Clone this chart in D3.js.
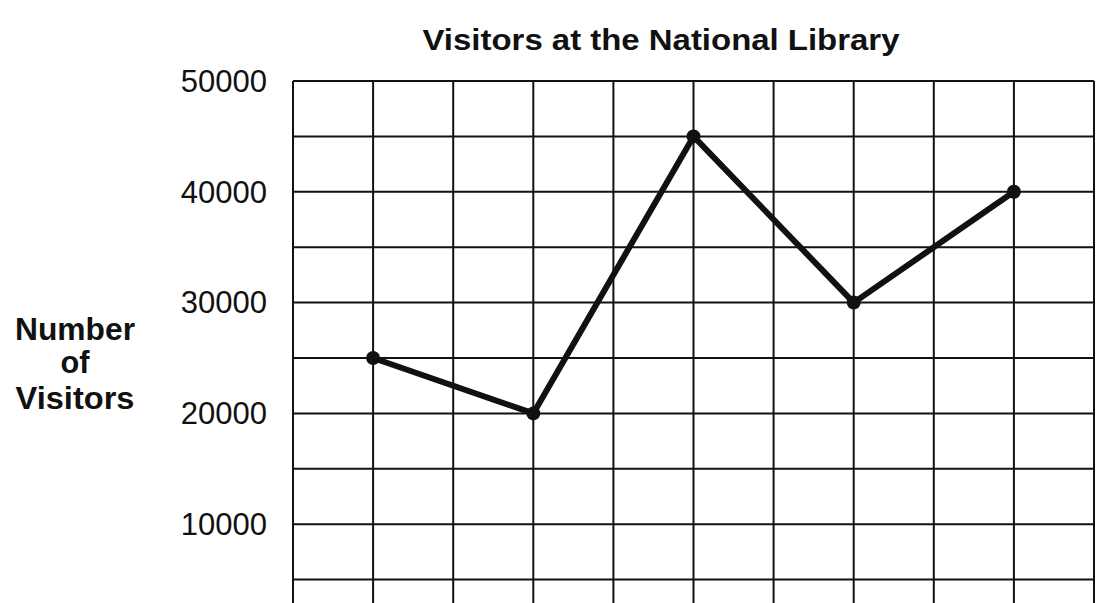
<!DOCTYPE html>
<html>
<head>
<meta charset="utf-8">
<script src="https://cdn.jsdelivr.net/npm/d3@7"></script>
<style>
  html, body { margin: 0; padding: 0; background: #fff; }
  svg { display: block; }
  text { font-family: "Liberation Sans", Arial, sans-serif; fill: #111; }
</style>
</head>
<body>
<svg id="chart" width="1109" height="603"></svg>
<script>
// ---- data ----
const categories = ["1", "2", "3", "4", "5"];
const visitors = [25000, 20000, 45000, 30000, 40000];
const yTickValues = [10000, 20000, 30000, 40000, 50000];
const gridStep = 5000;
const titleText = "Visitors at the National Library";
const yTitleLines = ["Number", "of", "Visitors"];

(function () {
// ---- layout ----
const W = 1109, H = 603;
const pLeft = 293, pRight = 1094, pTop = 81, pBottom = 635;

const svg = d3.select("#chart");
svg.append("rect").attr("width", W).attr("height", H).attr("fill", "#fff");

const x = d3.scalePoint().domain(categories).range([pLeft, pRight]).padding(0.5);
const xGrid = d3.scaleLinear().domain([0, categories.length * 2]).range([pLeft, pRight]);
const y = d3.scaleLinear().domain([0, 50000]).range([pBottom, pTop]);

// horizontal gridlines
const hVals = d3.range(0, 50000 + 1, gridStep);
svg.append("g").selectAll("line").data(hVals).join("line")
  .attr("x1", pLeft).attr("x2", pRight)
  .attr("y1", d => y(d)).attr("y2", d => y(d))
  .attr("stroke", "#111").attr("stroke-width", 2);

// vertical gridlines
const vVals = d3.range(0, categories.length * 2 + 1);
svg.append("g").selectAll("line").data(vVals).join("line")
  .attr("x1", d => xGrid(d)).attr("x2", d => xGrid(d))
  .attr("y1", pTop).attr("y2", pBottom)
  .attr("stroke", "#111").attr("stroke-width", 2);

// y axis labels
const yAxis = d3.axisLeft(y).tickValues(yTickValues).tickSize(0).tickPadding(26).tickFormat(d3.format("d"));
const ya = svg.append("g").attr("transform", `translate(${pLeft},0)`).call(yAxis);
ya.select(".domain").remove();
ya.selectAll("text")
  .style("font-family", "'Liberation Sans', Arial, sans-serif")
  .style("font-size", "31px")
  .attr("fill", "#111")
  .attr("dy", "0.33em");

// line
const line = d3.line().x((d, i) => x(categories[i])).y(d => y(d));
svg.append("path").datum(visitors)
  .attr("d", line)
  .attr("fill", "none").attr("stroke", "#111")
  .attr("stroke-width", 6).attr("stroke-linejoin", "round");

svg.append("g").selectAll("circle").data(visitors).join("circle")
  .attr("cx", (d, i) => x(categories[i])).attr("cy", d => y(d))
  .attr("r", 7).attr("fill", "#111");

// title
svg.append("text")
  .attr("x", 661).attr("y", 50)
  .attr("text-anchor", "middle")
  .attr("font-weight", "bold")
  .attr("font-size", 29)
  .attr("textLength", 477).attr("lengthAdjust", "spacingAndGlyphs")
  .text(titleText);

// y title
const yt = svg.append("text")
  .attr("text-anchor", "middle")
  .attr("font-weight", "bold")
  .attr("font-size", 32);
const yLens = [120, 29, 119];
const yBase = [340, 373, 409];
yTitleLines.forEach((t, i) => {
  yt.append("tspan").attr("x", 75).attr("y", yBase[i])
    .attr("textLength", yLens[i]).attr("lengthAdjust", "spacingAndGlyphs")
    .text(t);
});
})();
</script>
</body>
</html>
